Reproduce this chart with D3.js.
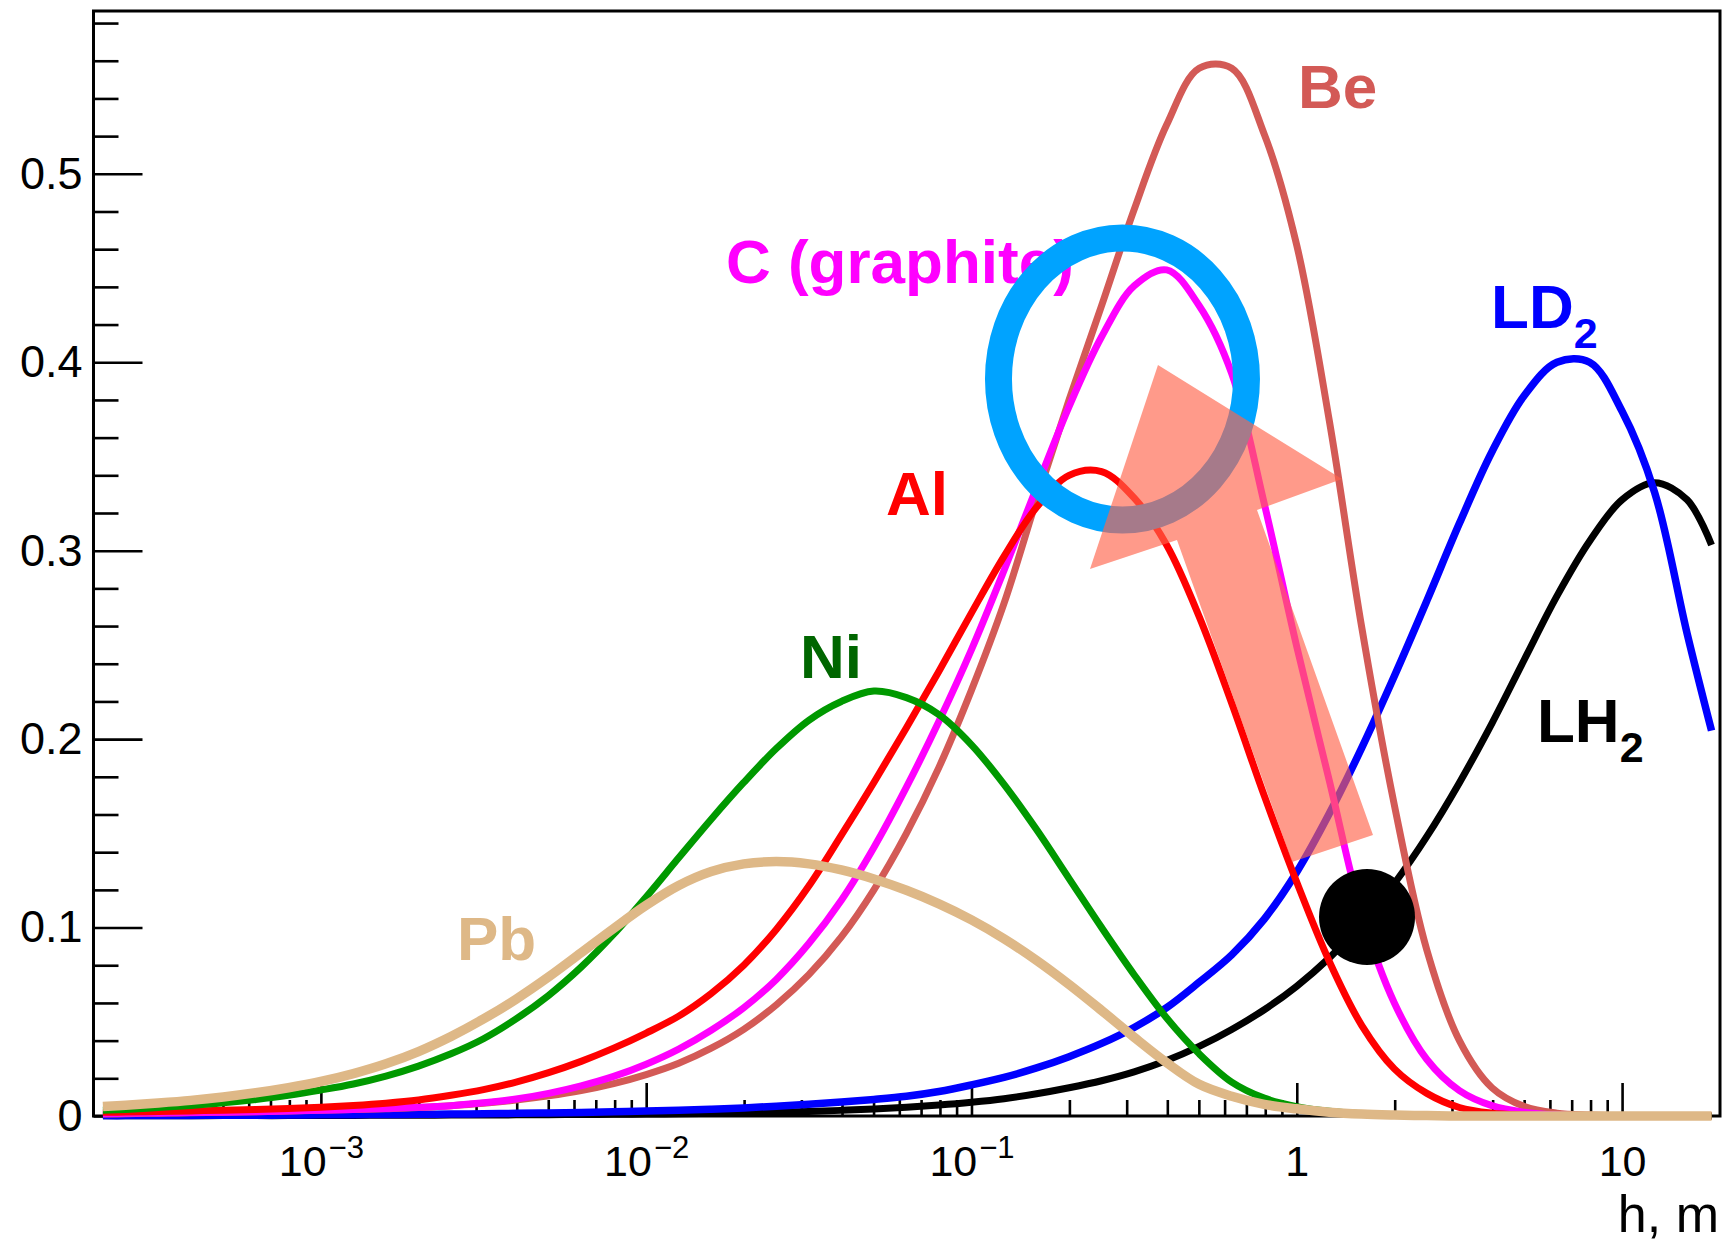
<!DOCTYPE html>
<html><head><meta charset="utf-8">
<script src="https://cdn.jsdelivr.net/npm/d3@7"></script>
<style>html,body{margin:0;padding:0;background:#fff;} svg{display:block;}</style>
</head><body>
<svg id="chart" width="1724" height="1245"></svg>
<script>
// ---- data ----
// sample positions: log10(h / m)
const logH = [-3.67,-3.6,-3.5,-3.4,-3.3,-3.2,-3.1,-3.0,-2.9,-2.8,-2.7,-2.6,-2.5,-2.4,-2.3,-2.2,-2.1,-2.0,-1.9,-1.8,-1.7,-1.6,-1.5,-1.4,-1.3,-1.2,-1.1,-1.0,-0.9,-0.8,-0.7,-0.6,-0.5,-0.4,-0.3,-0.2,-0.1,0.0,0.1,0.2,0.3,0.4,0.5,0.6,0.7,0.8,0.9,1.0,1.1,1.2,1.275];

const valuesLH2 = [0.0001,0.0001,0.0001,0.0001,0.0002,0.0002,0.0002,0.0003,0.0003,0.0004,0.0004,
  0.0005,0.0005,0.0006,0.0007,0.0008,0.0009,0.001,0.0012,0.0014,0.0017,
  0.002,0.0024,0.003,0.0037,0.0046,0.0058,0.0073,0.0092,0.0118,0.015,
  0.0187,0.0234,0.0294,0.0369,0.0459,0.0564,0.0689,0.0839,0.1019,0.1234,
  0.1484,0.1769,0.2084,0.2424,0.276,0.305,0.327,0.336,0.327,0.303];

const valuesLD2 = [0.0002,0.0002,0.0003,0.0003,0.0004,0.0004,0.0005,0.0006,0.0007,0.0008,0.0009,
  0.001,0.0012,0.0014,0.0016,0.0019,0.0022,0.0026,0.003,0.0036,0.0043,
  0.0052,0.0062,0.0074,0.0088,0.0105,0.013,0.0165,0.0205,0.0255,0.0315,
  0.0385,0.047,0.0575,0.071,0.0855,0.1045,0.1295,0.1605,0.1955,0.2335,
  0.2735,0.3145,0.3525,0.3825,0.400,0.400,0.374,0.331,0.256,0.2045];

const valuesBe = [0.001,0.0012,0.0015,0.0017,0.002,0.0023,0.0026,0.003,0.0034,0.0039,0.0045,
  0.0055,0.0068,0.0085,0.0107,0.0135,0.0172,0.022,0.028,0.036,0.046,
  0.059,0.075,0.095,0.120,0.150,0.185,0.226,0.272,0.327,0.380,
  0.430,0.481,0.526,0.556,0.556,0.521,0.462,0.369,0.259,0.165,
  0.088,0.040,0.015,0.005,0.0015,0.0005,0,0,0,0];

const valuesC = [0.0012,0.0014,0.0016,0.0018,0.002,0.0023,0.0027,0.0031,0.0035,0.004,0.0046,
  0.0055,0.007,0.009,0.012,0.016,0.021,0.0275,0.0355,0.0455,0.0575,
  0.0725,0.0915,0.1145,0.1425,0.1745,0.2095,0.2475,0.2895,0.3335,0.3765,
  0.4135,0.4405,0.449,0.430,0.394,0.325,0.249,0.178,0.107,0.060,
  0.030,0.0135,0.0055,0.002,0.0005,0,0,0,0,0];

const valuesAl = [0.002,0.0021,0.0024,0.0027,0.0031,0.0035,0.004,0.0047,0.0056,0.0068,0.0085,
  0.011,0.014,0.018,0.023,0.029,0.036,0.044,0.053,0.065,0.080,
  0.099,0.122,0.149,0.177,0.206,0.236,0.267,0.297,0.323,0.340,
  0.342,0.328,0.303,0.265,0.219,0.170,0.124,0.082,0.048,0.025,
  0.012,0.0045,0.0015,0.0005,0,0,0,0,0,0];

const valuesNi = [0.003,0.0035,0.0045,0.0056,0.007,0.0088,0.011,0.0138,0.017,0.0212,0.0265,
  0.033,0.041,0.0515,0.064,0.079,0.0965,0.1162,0.137,0.1575,0.177,
  0.195,0.210,0.220,0.2255,0.222,0.213,0.197,0.176,0.152,0.126,
  0.100,0.075,0.052,0.033,0.018,0.0095,0.005,0.0025,0.0012,0.0005,
  0,0,0,0,0,0,0,0,0,0];

const valuesPb = [0.005,0.0057,0.0069,0.0083,0.0101,0.0123,0.015,0.0183,0.0225,0.0277,0.0342,
  0.0422,0.0515,0.062,0.0738,0.0866,0.0995,0.1118,0.1223,0.1297,0.1338,
  0.135,0.1338,0.1306,0.1258,0.1198,0.1126,0.1041,0.0941,0.0826,0.0698,
  0.056,0.0418,0.0283,0.0168,0.0105,0.0062,0.0038,0.002,0.001,0.0005,
  0.0002,0,0,0,0,0,0,0,0,0];

const seriesNames = ["LH2","LD2","Be","C (graphite)","Al","Ni","Pb"];
const seriesValues = [valuesLH2, valuesLD2, valuesBe, valuesC, valuesAl, valuesNi, valuesPb];

// curve labels: main text, subscript, anchor h, anchor value
const labelText = ["Be","C (graphite)","Al","Ni","Pb","LD","LH"];
const labelSub  = ["","","","","","2","2"];
const labelH    = [1.0086, 0.01759, 0.05461, 0.02971, 0.002621, 3.955, 5.476];
const labelV    = [0.5349, 0.4420, 0.3189, 0.2324, 0.0828, 0.4182, 0.1985];

// annotation anchors (data coordinates)
const ringCenter = [0.2912, 0.3911];
const arrowH = [0.3744, 1.377, 0.7546, 1.715, 0.9667, 0.4283, 0.2314];
const arrowV = [0.3985, 0.3380, 0.3216, 0.1491, 0.1348, 0.3057, 0.2903];
const dotCenter = [1.644, 0.1056];

const xMajorTicks = [1e-3, 1e-2, 1e-1, 1, 10];
const xMajorBase = ["10","10","10","1","10"];
const xMajorExp  = ["\u22123","\u22122","\u22121","",""];
const yMajorTicks = [0, 0.1, 0.2, 0.3, 0.4, 0.5];
const yMajorLabels = ["0","0.1","0.2","0.3","0.4","0.5"];

// ---- styles ----
const styleColor = {"LH2":"#000000","LD2":"#0000ff","Be":"#d35a56","C (graphite)":"#ff00ff","Al":"#ff0000","Ni":"#009900","Pb":"#deb887"};
const styleWidth = {"LH2":7,"LD2":7.5,"Be":7,"C (graphite)":7,"Al":7,"Ni":7,"Pb":9.5};
const labelColors = ["#d35a56","#ff00ff","#ff0000","#006600","#deb887","#0000ff","#000000"];
const FONT = "'Liberation Sans', Arial, Helvetica, sans-serif";

// ---- layout ----
const svg = d3.select("#chart");
const L = 93.5, R = 1720, T = 11, B = 1116;
const x = d3.scaleLog().domain([2e-4, 20]).range([L, R]);
const y = d3.scaleLinear().domain([0, 0.5864]).range([B, T]);

svg.append("rect").attr("width",1724).attr("height",1245).attr("fill","#fff");

// tick positions
const xMinor = [];
for (let k = -4; k <= 1; k++) for (let d = 2; d <= 9; d++) {
  const v = d * Math.pow(10, k);
  if (v > 2.05e-4 && v < 19.9) xMinor.push(v);
}
const yMinor = [];
for (let i = 1; i <= 29; i++) { if (i % 5 !== 0) yMinor.push(i * 0.02); }

function styleAxis(g){
  g.select(".domain").remove();
  g.selectAll(".tick line").attr("stroke","#000").attr("stroke-width",2.6);
  g.selectAll("text").attr("font-family",FONT).attr("fill","#000");
}

svg.append("g").attr("transform",`translate(0,${B})`)
  .call(d3.axisBottom(x).tickValues(xMinor).tickSize(-16).tickFormat(""))
  .call(styleAxis);

const gx = svg.append("g").attr("transform",`translate(0,${B})`)
  .call(d3.axisBottom(x).tickValues(xMajorTicks).tickSize(-33).tickPadding(29).tickFormat(""))
  .call(styleAxis);
gx.selectAll(".tick text").each(function(d,i){
  const t = d3.select(this).attr("font-size",43).text(null);
  t.append("tspan").text(xMajorBase[i]);
  if (xMajorExp[i]) t.append("tspan").attr("font-size",31).attr("dy",-18).attr("dx",2).text(xMajorExp[i]);
});

svg.append("g").attr("transform",`translate(${L},0)`)
  .call(d3.axisLeft(y).tickValues(yMinor).tickSize(-25).tickFormat(""))
  .call(styleAxis);
svg.append("g").attr("transform",`translate(${L},0)`)
  .call(d3.axisLeft(y).tickValues(yMajorTicks).tickSize(-49).tickPadding(11).tickFormat((d,i)=>yMajorLabels[i]))
  .call(styleAxis)
  .selectAll("text").attr("font-size",45);

// frame
svg.append("rect").attr("x",L).attr("y",T).attr("width",R-L).attr("height",B-T)
  .attr("fill","none").attr("stroke","#000").attr("stroke-width",3);

// axis title
svg.append("text").attr("x",1719).attr("y",1232).attr("text-anchor","end")
  .attr("font-family",FONT).attr("font-size",52).attr("fill","#000").text("h, m");

// curve labels
labelText.forEach((txt,i)=>{
  const t = svg.append("text").attr("x",x(labelH[i])).attr("y",y(labelV[i]))
    .attr("font-family",FONT).attr("font-weight","bold").attr("font-size",62)
    .attr("fill",labelColors[i]);
  t.append("tspan").text(txt);
  if (labelSub[i]) t.append("tspan").attr("font-size",43).attr("dy",20).text(labelSub[i]);
});

// curves
svg.append("clipPath").attr("id","clip").append("rect")
  .attr("x",L).attr("y",T).attr("width",R-L).attr("height",B-T+6);
const line = d3.line()
  .x((d,i)=>x(Math.pow(10, logH[i])))
  .y(d=>y(d))
  .curve(d3.curveCatmullRom.alpha(0.5));
const gc = svg.append("g").attr("clip-path","url(#clip)");
seriesNames.forEach((name,k)=>{
  gc.append("path").datum(seriesValues[k]).attr("d",line)
    .attr("fill","none").attr("stroke",styleColor[name]).attr("stroke-width",styleWidth[name])
    .attr("stroke-linejoin","round");
});

// annotations
svg.append("ellipse").attr("cx",x(ringCenter[0])).attr("cy",y(ringCenter[1]))
  .attr("rx",124).attr("ry",141).attr("fill","none").attr("stroke","#00a3ff").attr("stroke-width",27);
svg.append("polygon")
  .attr("points", arrowH.map((h,i)=>[x(h), y(arrowV[i])].join(",")).join(" "))
  .attr("fill","rgb(255,100,75)").attr("fill-opacity",0.65);
svg.append("circle").attr("cx",x(dotCenter[0])).attr("cy",y(dotCenter[1])).attr("r",48).attr("fill","#000");
</script>
</body></html>
